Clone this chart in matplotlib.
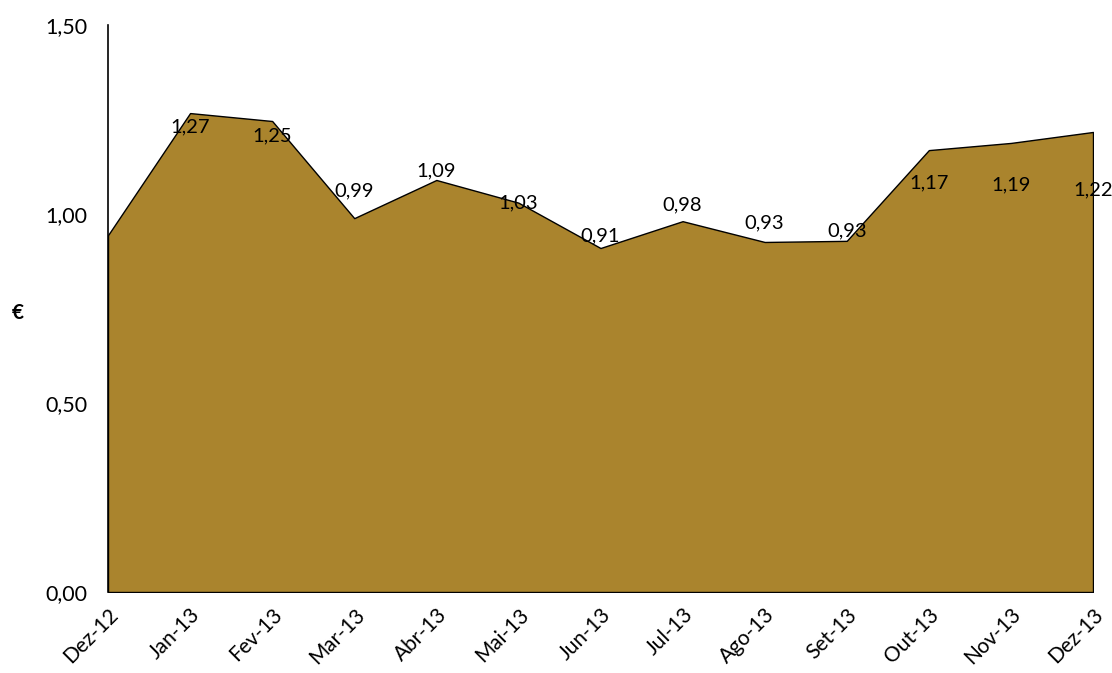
import matplotlib
matplotlib.use("Agg")
import matplotlib.pyplot as plt

months = ["Dez-12", "Jan-13", "Fev-13", "Mar-13", "Abr-13", "Mai-13", "Jun-13",
          "Jul-13", "Ago-13", "Set-13", "Out-13", "Nov-13", "Dez-13"]
values = [0.944, 1.267, 1.246, 0.989, 1.090, 1.03, 0.910, 0.981, 0.926, 0.929, 1.169, 1.188, 1.217]
labels = [None, "1,27", "1,25", "0,99", "1,09", "1,03", "0,91", "0,98", "0,93", "0,93", "1,17", "1,19", "1,22"]
# label vertical offsets in pixels (positive = below point)
label_dy = [0, 14, 15, -27, -9, 0, -12, -16, -19, -10, 33, 42, 58]
yticks = [0.0, 0.5, 1.0, 1.5]
ytick_labels = ["0,00", "0,50", "1,00", "1,50"]

plt.rcParams['font.family'] = ['Lato', 'DejaVu Sans']

fig = plt.figure(figsize=(11.12, 6.73), dpi=100)
ax = fig.add_axes([108/1112, 1-592/673, (1093-108)/1112, (592-25)/673])

x = list(range(len(months)))
ax.fill_between(x, 0, values, facecolor="#AA842D", edgecolor="black", linewidth=1.0)

ax.set_xlim(0, len(months)-1)
ax.set_ylim(0, 1.5)
ax.set_yticks(yticks)
ax.set_yticklabels(ytick_labels, fontsize=15.5)
ax.set_xticks(x)
ax.set_xticklabels(months, rotation=45, ha="right", rotation_mode="anchor", fontsize=15)
ax.tick_params(axis="both", length=0)
ax.tick_params(axis="y", pad=15)
ax.tick_params(axis="x", pad=9)
for s in ["top", "right", "bottom"]:
    ax.spines[s].set_visible(False)
ax.spines["left"].set_linewidth(1.2)
ax.spines["left"].set_zorder(5)

for xi, v, lab, dy in zip(x, values, labels, label_dy):
    if lab is None:
        continue
    ax.annotate(lab, (xi, v), xytext=(0, -dy*0.72), textcoords="offset points",
                ha="center", va="center", fontsize=14.5, annotation_clip=False)

fig.text(18/1112, 1-313/673, "€", fontsize=15, fontweight="bold", ha="center", va="center")

fig.savefig("out.png", dpi=100)
